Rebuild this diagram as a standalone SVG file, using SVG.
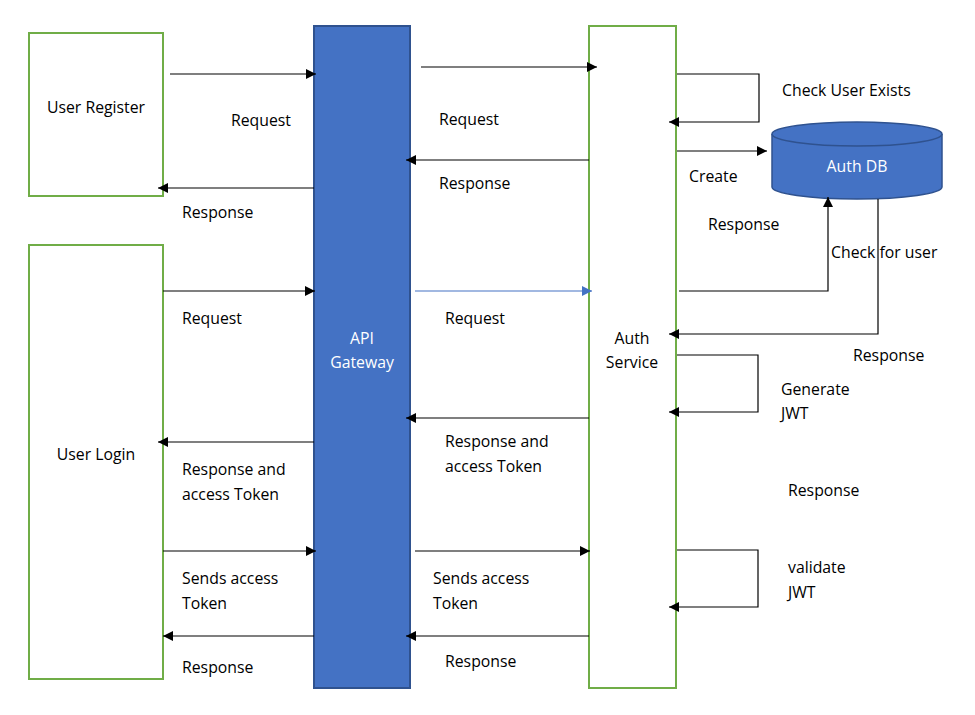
<svg xmlns="http://www.w3.org/2000/svg" width="975" height="715" viewBox="0 0 975 715">
<defs>
<style>
.t{font-family:"Open Sans","Noto Sans","Liberation Sans",sans-serif;font-size:15.8px;fill:#000}
.w{fill:#fff}
.c{text-anchor:middle}
.box{fill:#fff;stroke:#70AD47;stroke-width:2}
.ln{fill:none;stroke:#000;stroke-width:1.2}
.bl{fill:none;stroke:#4472C4;stroke-width:1.2}
</style>
<marker id="a" viewBox="0 0 10 10" refX="10" refY="5" markerWidth="10" markerHeight="10" markerUnits="userSpaceOnUse" orient="auto"><path d="M0,0 L10,5 L0,10 z" fill="#000"/></marker>
<marker id="b" viewBox="0 0 10 10" refX="10" refY="5" markerWidth="10" markerHeight="10" markerUnits="userSpaceOnUse" orient="auto"><path d="M0,0 L10,5 L0,10 z" fill="#4472C4"/></marker>
</defs>
<rect width="975" height="715" fill="#fff"/>
<g id="user-register"><rect class="box" x="29" y="33" width="134" height="163"/><text class="t c" x="96" y="113">User Register</text></g>
<g id="user-login"><rect class="box" x="29" y="245" width="134" height="434"/><text class="t c" x="96" y="460">User Login</text></g>
<g id="api-gateway"><rect x="314" y="26" width="96" height="662" fill="#4472C4" stroke="#2F528F" stroke-width="2"/><text class="t w c" x="362" y="344">API</text><text class="t w c" x="362" y="368">Gateway</text></g>
<g id="auth-service"><rect class="box" x="589" y="26" width="87" height="662"/><text class="t c" x="632" y="344">Auth</text><text class="t c" x="632" y="368">Service</text></g>
<g id="auth-db">
<path d="M772,134 L772,187 A85,12 0 0 0 942,187 L942,134" fill="#4472C4" stroke="#2F528F" stroke-width="1.5"/>
<ellipse cx="857" cy="134" rx="85" ry="12" fill="#4472C4" stroke="#2F528F" stroke-width="1.5"/>
<text class="t w c" x="857" y="172">Auth DB</text>
</g>
<g id="connectors">
<line class="ln" x1="170" y1="74" x2="316" y2="74" marker-end="url(#a)"/>
<line class="ln" x1="314" y1="188" x2="158" y2="188" marker-end="url(#a)"/>
<line class="ln" x1="421" y1="67" x2="597" y2="67" marker-end="url(#a)"/>
<line class="ln" x1="589" y1="160" x2="406" y2="160" marker-end="url(#a)"/>
<polyline class="ln" points="677,74 759,74 759,122 669,122" marker-end="url(#a)"/>
<line class="ln" x1="677" y1="151" x2="767" y2="151" marker-end="url(#a)"/>
<polyline class="ln" points="679,291 828,291 828,197" marker-end="url(#a)"/>
<polyline class="ln" points="878,199 878,334 669,334" marker-end="url(#a)"/>
<polyline class="ln" points="677,355 758,355 758,412 669,412" marker-end="url(#a)"/>
<polyline class="ln" points="677,550 758,550 758,607 669,607" marker-end="url(#a)"/>
<line class="ln" x1="163" y1="291" x2="315" y2="291" marker-end="url(#a)"/>
<line class="bl" x1="415" y1="291" x2="592" y2="291" marker-end="url(#b)"/>
<line class="ln" x1="589" y1="418" x2="406" y2="418" marker-end="url(#a)"/>
<line class="ln" x1="314" y1="442" x2="158" y2="442" marker-end="url(#a)"/>
<line class="ln" x1="163" y1="551" x2="316" y2="551" marker-end="url(#a)"/>
<line class="ln" x1="415" y1="551" x2="590" y2="551" marker-end="url(#a)"/>
<line class="ln" x1="589" y1="636" x2="406" y2="636" marker-end="url(#a)"/>
<line class="ln" x1="314" y1="636" x2="163" y2="636" marker-end="url(#a)"/>
</g>
<g id="labels">
<text class="t" x="231" y="126">Request</text>
<text class="t" x="182" y="218">Response</text>
<text class="t" x="439" y="125">Request</text>
<text class="t" x="439" y="189">Response</text>
<text class="t" x="782" y="96">Check User Exists</text>
<text class="t" x="689" y="182">Create</text>
<text class="t" x="708" y="230">Response</text>
<text class="t" x="831" y="258">Check for user</text>
<text class="t" x="853" y="361">Response</text>
<text class="t" x="781" y="395">Generate</text>
<text class="t" x="781" y="419">JWT</text>
<text class="t" x="788" y="496">Response</text>
<text class="t" x="788" y="573">validate</text>
<text class="t" x="788" y="598">JWT</text>
<text class="t" x="182" y="324">Request</text>
<text class="t" x="445" y="324">Request</text>
<text class="t" x="182" y="475">Response and</text>
<text class="t" x="182" y="500">access Token</text>
<text class="t" x="445" y="447">Response and</text>
<text class="t" x="445" y="472">access Token</text>
<text class="t" x="182" y="584">Sends access</text>
<text class="t" x="182" y="609">Token</text>
<text class="t" x="433" y="584">Sends access</text>
<text class="t" x="433" y="609">Token</text>
<text class="t" x="182" y="673">Response</text>
<text class="t" x="445" y="667">Response</text>
</g>
</svg>
